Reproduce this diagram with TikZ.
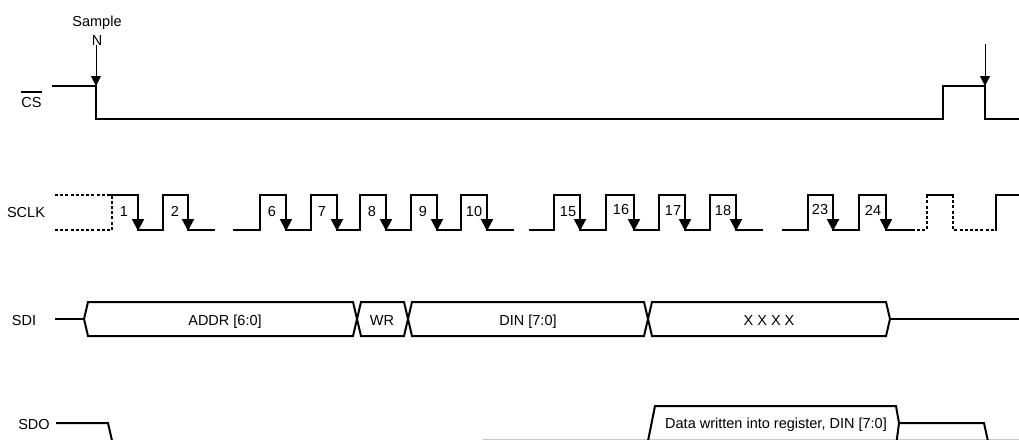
\documentclass[tikz,border=0pt]{standalone}
\usepackage{fontspec}
\setmainfont{Liberation Sans}
\usetikzlibrary{arrows.meta}
\begin{document}
\begin{tikzpicture}[x=1pt,y=-1pt,
  sig/.style={line width=2pt,line join=miter,line cap=rect},
  dsig/.style={line width=2pt,dash pattern=on 3pt off 2.2pt},
  lbl/.style={font=\fontsize{14.5}{17}\selectfont,inner sep=0pt,anchor=base},
  clk/.style={line width=2pt,-{Triangle[length=12pt,width=12pt]}},
  samplearrow/.style={line width=1pt,-{Triangle[length=10pt,width=10pt]}}]
\useasboundingbox (0,0) rectangle (1019,439);
\clip (0,0) rectangle (1019,439);
% ---------- CS ----------
\node[lbl] (cslbl) at (31.5,107) {CS};
\draw[line width=1.2pt] (21,92) -- (42,92);
\draw[sig] (53,86) -- (96,86) -- (96,119) -- (943,119) -- (943,86) -- (985,86) -- (985,119) -- (1020,119);
\node[lbl] (samp) at (97,27) {Sample};
\node[lbl] (nn) at (97,45) {N};
\coordinate (a1) at (96,86);
\coordinate (a2t) at (985,44);
\coordinate (a2) at (985,86);
\draw[samplearrow] (nn.south -| a1) -- (a1);
\draw[samplearrow] (a2t) -- (a2);
% ---------- SCLK ----------
\node[lbl] (sclk) at (26,217) {SCLK};
\draw[dsig] (55,195) -- (110,195);
\draw[dsig] (55,230) -- (112,230) -- (112,195);
\draw[sig] (110,195) -- (138,195) -- (138,230) -- (163,230) -- (163,195) -- (188,195) -- (188,230) -- (214,230);
\draw[sig] (234,230) -- (260,230) -- (260,195) -- (286,195) -- (286,230) -- (311,230) -- (311,195) -- (337,195) -- (337,230) -- (360,230) -- (360,195) -- (386,195) -- (386,230) -- (411,230) -- (411,195) -- (437,195) -- (437,230) -- (461,230) -- (461,195) -- (487,195) -- (487,230) -- (513,230);
\draw[sig] (530,230) -- (554,230) -- (554,195) -- (580,195) -- (580,230) -- (606,230) -- (606,195) -- (634,195) -- (634,230) -- (659,230) -- (659,195) -- (685,195) -- (685,230) -- (710,230) -- (710,195) -- (736,195) -- (736,230) -- (762,230);
\draw[sig] (783,230) -- (808,230) -- (808,195) -- (833,195) -- (833,230) -- (859,230) -- (859,195) -- (886,195) -- (886,230) -- (912,230);
\draw[dsig] (912,230) -- (927,230) -- (927,195);
\draw[sig] (927,195) -- (953,195);
\draw[dsig] (953,195) -- (953,230) -- (996,230);
\draw[sig] (996,230) -- (996,195) -- (1020,195);
\foreach \x in {138,188,286,337,386,437,487,580,634,685,736,833,886}
  \draw[clk] (\x,200) -- (\x,231);
\foreach \n/\x/\y in {1/124/216,2/175/216,6/272/216,7/322/216,8/372/216,9/423/216,10/474/216,15/568/216,16/621/214,17/673/215,18/723/215,23/820/214,24/873/215}
  \node[lbl] (c\n) at (\x,\y) {\n};
% ---------- SDI ----------
\node[lbl] (sdi) at (24,325) {SDI};
\draw[sig] (56,319) -- (84,319);
\draw[sig] (88,302) -- (84,319) -- (88,336) -- (353,336) -- (357,319) -- (353,302) -- cycle;
\draw[sig] (361,302) -- (357,319) -- (361,336) -- (404,336) -- (408,319) -- (404,302) -- cycle;
\draw[sig] (412,302) -- (408,319) -- (412,336) -- (644,336) -- (648,319) -- (644,302) -- cycle;
\draw[sig] (652,302) -- (648,319) -- (652,336) -- (886,336) -- (890,319) -- (886,302) -- cycle;
\draw[sig] (890,319) -- (1020,319);
\node[lbl] (addr) at (225,325) {ADDR [6:0]};
\node[lbl] (wr) at (382,325) {WR};
\node[lbl] (din) at (528,325) {DIN [7:0]};
\node[lbl] (xxxx) at (769,325) {X X X X};
% ---------- SDO ----------
\node[lbl] (sdo) at (34,429) {SDO};
\draw[sig] (57,423) -- (108,423) -- (113,445);
\draw[line width=1pt,black!22] (483,439) -- (1019,439);
\draw[sig] (647,446) -- (655,406) -- (896,406) -- (899,423) -- (896,446);
\draw[sig] (899,423) -- (984,423) -- (989,446);
\node[lbl] (dw) at (776,428) {Data written into register, DIN [7:0]};
\end{tikzpicture}
\end{document}
